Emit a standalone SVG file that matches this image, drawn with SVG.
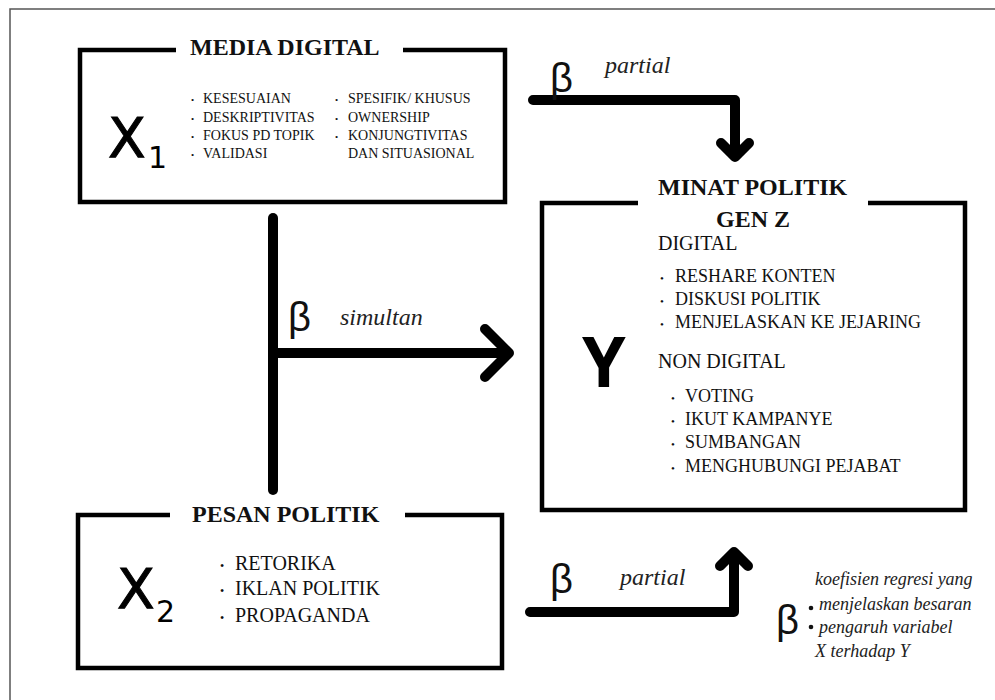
<svg xmlns="http://www.w3.org/2000/svg" width="995" height="700" viewBox="0 0 995 700">
<style>
.frame{fill:none;stroke:#000;stroke-width:4.5;stroke-linejoin:miter}
.conn{fill:none;stroke:#000;stroke-width:10;stroke-linecap:round;stroke-linejoin:round}
.title{font-family:"Liberation Serif",serif;font-weight:bold;font-size:24px;fill:#111}
.item{font-family:"Liberation Serif",serif;fill:#111}
.big{font-family:"DejaVu Sans",sans-serif;fill:#000;stroke:#000;stroke-width:1}
.sub{font-family:"DejaVu Sans",sans-serif;fill:#000;font-size:30px}
.beta{font-family:"Liberation Sans",sans-serif;font-size:40px;fill:#111}
.lab{font-family:"Liberation Serif",serif;font-style:italic;font-size:24px;fill:#222}
.leg{font-family:"Liberation Serif",serif;font-style:italic;font-size:18px;fill:#222}
</style>
<rect x="0" y="0" width="995" height="700" fill="#fff"/>
<rect x="10" y="9" width="995" height="710" fill="none" stroke="#555" stroke-width="1.5"/>

<g id="connectors">
  <path class="conn" d="M273 218 V490"/>
  <path class="conn" d="M273 353 H508"/>
  <path class="conn" d="M485 329 L509 353 L485 377"/>
  <path class="conn" d="M533 100 H735 V156"/>
  <path class="conn" d="M721 143 L735 157 L749 143"/>
  <path class="conn" d="M530 612 H734 V553"/>
  <path class="conn" d="M720 566 L734 552 L748 566"/>
  <text class="beta" x="550" y="92">β</text>
  <text class="lab" x="605" y="73">partial</text>
  <text class="beta" x="288" y="331">β</text>
  <text class="lab" x="340" y="325">simultan</text>
  <text class="beta" x="550" y="593">β</text>
  <text class="lab" x="620" y="585">partial</text>
</g>

<g id="x1">
  <path class="frame" d="M176 50 H80 V202 H505 V50 H403"/>
  <text class="title" x="190" y="55">MEDIA DIGITAL</text>
  <text class="big" x="108" y="157" font-size="55">X</text>
  <text class="sub" x="148" y="168">1</text>
  <g class="item" font-size="14">
    <text x="191" y="103" font-size="9">•</text><text x="203" y="103">KESESUAIAN</text>
    <text x="191" y="122" font-size="9">•</text><text x="203" y="122">DESKRIPTIVITAS</text>
    <text x="191" y="140" font-size="9">•</text><text x="203" y="140">FOKUS PD TOPIK</text>
    <text x="191" y="158" font-size="9">•</text><text x="203" y="158">VALIDASI</text>
    <text x="335" y="103" font-size="9">•</text><text x="348" y="103">SPESIFIK/ KHUSUS</text>
    <text x="335" y="122" font-size="9">•</text><text x="348" y="122">OWNERSHIP</text>
    <text x="335" y="140" font-size="9">•</text><text x="348" y="140">KONJUNGTIVITAS</text>
    <text x="348" y="158">DAN SITUASIONAL</text>
  </g>
</g>

<g id="y">
  <path class="frame" d="M638 203 H542 V510 H965 V203 H868"/>
  <text class="title" x="658" y="195">MINAT POLITIK</text>
  <text class="title" x="753" y="227" text-anchor="middle">GEN Z</text>
  <text x="582" y="387" font-family="'Open Sans',sans-serif" font-weight="bold" font-size="70" fill="#000">Y</text>
  <g class="item" font-size="18">
    <text x="658" y="250" font-size="20">DIGITAL</text>
    <text x="660" y="282" font-size="11">•</text><text x="675" y="282">RESHARE KONTEN</text>
    <text x="660" y="305" font-size="11">•</text><text x="675" y="305">DISKUSI POLITIK</text>
    <text x="660" y="328" font-size="11">•</text><text x="675" y="328">MENJELASKAN KE JEJARING</text>
    <text x="658" y="368" font-size="20">NON DIGITAL</text>
    <text x="671" y="402" font-size="11">•</text><text x="685" y="402">VOTING</text>
    <text x="671" y="425" font-size="11">•</text><text x="685" y="425">IKUT KAMPANYE</text>
    <text x="671" y="448" font-size="11">•</text><text x="685" y="448">SUMBANGAN</text>
    <text x="671" y="472" font-size="11">•</text><text x="685" y="472">MENGHUBUNGI PEJABAT</text>
  </g>
</g>

<g id="x2">
  <path class="frame" d="M170 515 H78 V668 H502 V515 H405"/>
  <text class="title" x="192" y="522">PESAN POLITIK</text>
  <text class="big" x="117" y="608" font-size="55">X</text>
  <text class="sub" x="156" y="622">2</text>
  <g class="item" font-size="20">
    <text x="220" y="570" font-size="12">•</text><text x="235" y="570">RETORIKA</text>
    <text x="220" y="595" font-size="12">•</text><text x="235" y="595">IKLAN POLITIK</text>
    <text x="220" y="622" font-size="12">•</text><text x="235" y="622">PROPAGANDA</text>
  </g>
</g>

<g id="legend">
  <text class="beta" x="776" y="634" font-size="38">β</text>
  <circle cx="811" cy="608" r="2.3" fill="#111"/>
  <circle cx="811" cy="627" r="2.3" fill="#111"/>
  <text class="leg" x="815" y="585">koefisien regresi yang</text>
  <text class="leg" x="819" y="610">menjelaskan besaran</text>
  <text class="leg" x="819" y="633">pengaruh variabel</text>
  <text class="leg" x="815" y="657">X terhadap Y</text>
</g>
</svg>
